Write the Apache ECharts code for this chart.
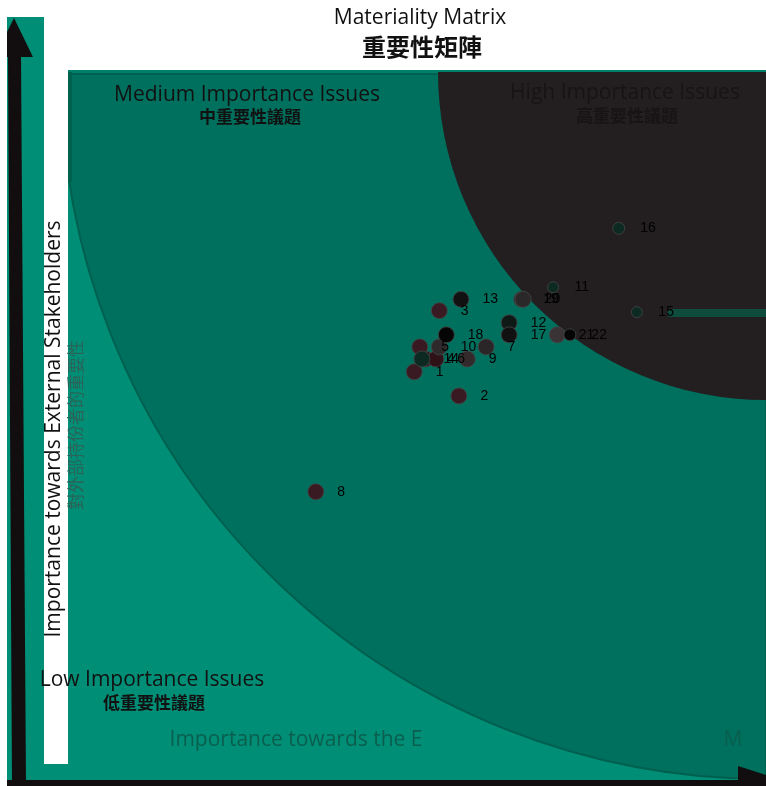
<!DOCTYPE html>
<html><head><meta charset="utf-8">
<script src="https://cdn.jsdelivr.net/npm/echarts/dist/echarts.min.js"></script>
<style>html,body{margin:0;padding:0;background:#fff}#c{width:766px;height:786px}</style>
</head><body><div id="c"></div>
<script>
// ---- data ----
const issueIds   = ['19','1','2','3','4','5','6','7','8','9','10','11','12','13','14','15','16','17','18','20','21','22'];
const internalImp = [6.50,4.96,5.60,5.32,5.12,5.04,5.27,5.99,3.55,5.72,5.32,6.95,6.32,5.63,5.07,8.15,7.89,6.32,5.42,6.52,7.01,7.19];
const externalImp = [6.77,5.75,5.41,6.61,5.93,6.10,5.93,6.10,4.06,5.93,6.10,6.94,6.44,6.77,5.93,6.59,7.77,6.27,6.27,6.77,6.27,6.27];
const axisRange = [0, 10];

// ---- styles ----
const pointColors = {
  '1':'#3a1a22','2':'#3a1a22','3':'#3a1a22','4':'#3a1a22','5':'#3a1a22','6':'#2e1217','7':'#2a2628',
  '8':'#3a1a22','9':'#332a2c','10':'#2e2a2b','11':'#0c2a22','12':'#0f1a17','13':'#111111','14':'#0c2a22',
  '15':'#0c2a22','16':'#0c2a22','17':'#111111','18':'#050505','19':'#2a2829','20':'#2a2829','21':'#3a3335','22':'#050505'
};
const smallPts = {'11':11,'15':11,'16':12,'22':12};

const data = issueIds.map((id, i) => {
  const s = smallPts[id] || 16;
  return {
    name: id,
    value: [internalImp[i], externalImp[i]],
    symbolSize: s,
    itemStyle: { color: pointColors[id] },
    label: { distance: 21 - s / 2 }
  };
});

const cx = 766;
const LOW = '#008f76', MED = '#00705e', HIGH = '#231f20';
const EN = '"Open Sans", "Noto Sans", sans-serif';
const CJK = '"Noto Sans CJK TC", sans-serif';

const chart = echarts.init(document.getElementById('c'));
chart.setOption({
  animation: false,
  backgroundColor: '#ffffff',
  grid: { left: 68, top: 70, right: 0, bottom: 6 },
  xAxis: { type: 'value', min: axisRange[0], max: axisRange[1], show: false },
  yAxis: { type: 'value', min: axisRange[0], max: axisRange[1], show: false },
  graphic: { elements: [
    // backgrounds
    { type: 'rect', z: 0, z2: 1, shape: { x: 7, y: 17, width: 37, height: 60 }, style: { fill: LOW } },
    { type: 'rect', z: 0, z2: 1, shape: { x: 7, y: 70, width: 759, height: 710 }, style: { fill: LOW } },
    { type: 'rect', z: 0, z2: 2, shape: { x: 68, y: 70, width: 698, height: 4 }, style: { fill: '#00806a' } },
    { type: 'sector', z: 0, z2: 3, shape: { cx: cx, cy: 74, r: 705, startAngle: Math.PI / 2, endAngle: Math.PI, clockwise: true },
      style: { fill: MED, stroke: '#00604f', lineWidth: 2 } },
    { type: 'rect', z: 0, z2: 4, shape: { x: 68, y: 72, width: 4, height: 110 }, style: { fill: '#00614f' } },
    { type: 'sector', z: 0, z2: 5, shape: { cx: cx, cy: 72, r: 328, startAngle: Math.PI / 2, endAngle: Math.PI, clockwise: true },
      style: { fill: HIGH } },
    { type: 'rect', z: 0, z2: 6, shape: { x: 668, y: 309, width: 98, height: 8 }, style: { fill: '#0e4c3e' } },
    { type: 'rect', z: 0, z2: 7, shape: { x: 44, y: 70, width: 24, height: 694 }, style: { fill: '#ffffff' } },
    // arrows
    { type: 'polygon', z: 0, z2: 8, shape: { points: [[8, 57], [21, 57], [26, 786], [12, 786]] }, style: { fill: '#120e0f' } },
    { type: 'polygon', z: 0, z2: 8, shape: { points: [[14, 18], [33, 57], [7, 57], [7, 32]] }, style: { fill: '#120e0f' } },
    { type: 'rect', z: 0, z2: 8, shape: { x: 7, y: 780, width: 759, height: 6 }, style: { fill: '#120e0f' } },
    { type: 'polygon', z: 0, z2: 8, shape: { points: [[738, 766], [800, 786], [738, 786]] }, style: { fill: '#120e0f' } },
    // texts
    { type: 'text', z: 5, style: { text: 'Materiality Matrix', x: 420, y: 18, textAlign: 'center', textVerticalAlign: 'middle', font: '21px ' + EN, fill: '#111' } },
    { type: 'text', z: 5, style: { text: '重要性矩陣', x: 422, y: 47, textAlign: 'center', textVerticalAlign: 'middle', font: 'bold 24px ' + CJK, fill: '#111' } },
    { type: 'text', z: 5, style: { text: 'Medium Importance Issues', x: 247, y: 95, textAlign: 'center', textVerticalAlign: 'middle', font: '21px ' + EN, fill: '#111' } },
    { type: 'text', z: 5, style: { text: '中重要性議題', x: 250, y: 117, textAlign: 'center', textVerticalAlign: 'middle', font: 'bold 17px ' + CJK, fill: '#111' } },
    { type: 'text', z: 5, style: { text: 'High Importance Issues', x: 625, y: 93, textAlign: 'center', textVerticalAlign: 'middle', font: '21px ' + EN, fill: '#181415' } },
    { type: 'text', z: 5, style: { text: '高重要性議題', x: 627, y: 116, textAlign: 'center', textVerticalAlign: 'middle', font: 'bold 17px ' + CJK, fill: '#181415' } },
    { type: 'text', z: 5, style: { text: 'Low Importance Issues', x: 152, y: 680, textAlign: 'center', textVerticalAlign: 'middle', font: '21px ' + EN, fill: '#111' } },
    { type: 'text', z: 5, style: { text: '低重要性議題', x: 154, y: 703, textAlign: 'center', textVerticalAlign: 'middle', font: 'bold 17px ' + CJK, fill: '#111' } },
    { type: 'text', z: 5, style: { text: 'Importance towards the E', x: 296, y: 740, textAlign: 'center', textVerticalAlign: 'middle', font: '21px ' + EN, fill: '#0a5e4e' } },
    { type: 'text', z: 5, style: { text: 'M', x: 733, y: 740, textAlign: 'center', textVerticalAlign: 'middle', font: '21px ' + EN, fill: '#0a5e4e' } },
    { type: 'text', z: 5, x: 54, y: 429, rotation: Math.PI / 2, style: { text: 'Importance towards External Stakeholders', x: 0, y: 0, textAlign: 'center', textVerticalAlign: 'middle', font: '21px ' + EN, fill: '#111' } },
    { type: 'text', z: 5, x: 76, y: 425, rotation: Math.PI / 2, style: { text: '對外部持份者的重要性', x: 0, y: 0, textAlign: 'center', textVerticalAlign: 'middle', font: '17px ' + CJK, fill: '#2a6357' } }
  ] },
  series: [{
    type: 'scatter',
    z: 3,
    data: data,
    itemStyle: { opacity: 1, borderColor: 'rgba(70,70,70,0.8)', borderWidth: 1 },
    label: {
      show: true,
      position: 'right',
      formatter: p => p.name,
      color: '#000',
      fontSize: 14,
      fontFamily: '"Liberation Sans", Arial, sans-serif'
    }
  }]
});
</script>
</body></html>
